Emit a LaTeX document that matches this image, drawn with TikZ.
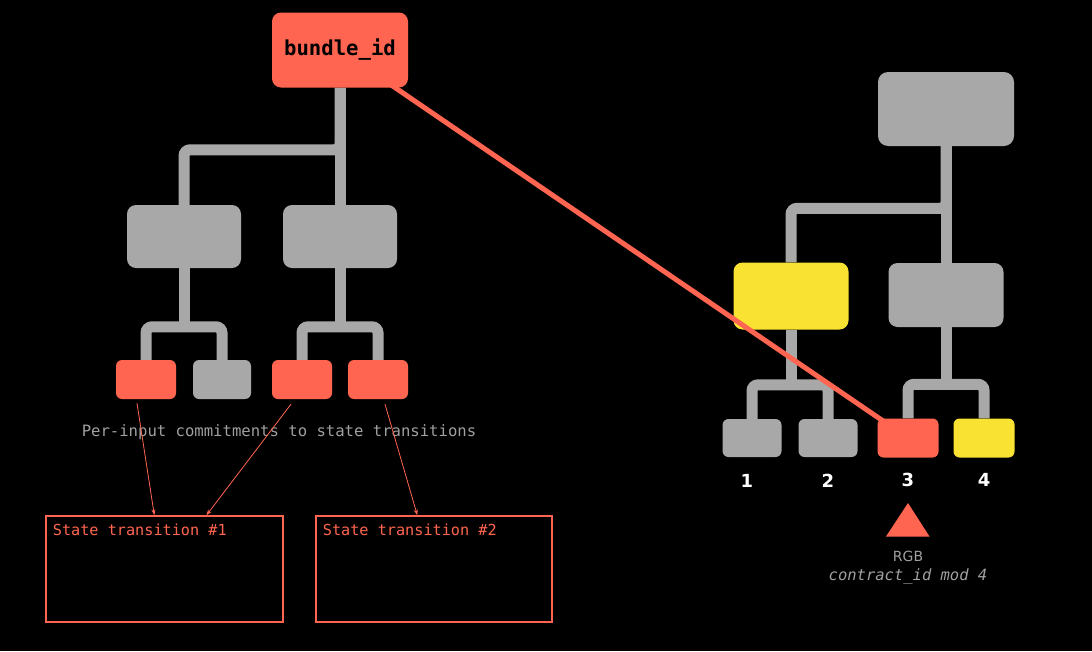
\documentclass[tikz,border=0pt]{standalone}
\usepackage{fontspec}
\setmainfont{DejaVu Sans}
\setmonofont{DejaVu Sans Mono}
\usetikzlibrary{arrows.meta,calc}
\definecolor{coral}{HTML}{FF6550}
\definecolor{gr}{HTML}{A8A8A8}
\definecolor{yel}{HTML}{F9E231}
\definecolor{lbl}{HTML}{A0A0A0}
\pgfdeclarelayer{bg}\pgfdeclarelayer{mid}\pgfdeclarelayer{ln}
\pgfsetlayers{bg,mid,ln,main}
\begin{document}
\begin{tikzpicture}[x=1pt,y=-1pt,
  box/.style={rounded corners=9pt, inner sep=0pt, minimum width=115pt, minimum height=64pt},
  leaf/.style={rounded corners=6pt, inner sep=0pt, minimum width=60pt, minimum height=39pt},
  conn/.style={draw=gr, line width=11pt, rounded corners=6pt},
  arr/.style={draw=coral, line width=0.8pt, -{Stealth[length=6pt,width=4pt]}},
  stbox/.style={draw=coral, line width=1.3pt, inner sep=0pt, minimum height=106pt},
  mono/.style={font=\ttfamily\fontsize{15.2}{18}\selectfont},
  num/.style={font=\bfseries\fontsize{18}{21}\selectfont, text=white, anchor=base}
]
\useasboundingbox (0,0) rectangle (1092,651);
\begin{pgfonlayer}{bg}
\fill[black] (0,0) rectangle (1092,651);
\end{pgfonlayer}

% left tree
\node[box, fill=coral, minimum width=136pt, minimum height=75pt, font=\ttfamily\bfseries\fontsize{20.6}{24}\selectfont] (bid) at (340,50) {bundle\_id};
\begin{pgfonlayer}{mid}
\node[box, fill=gr, minimum width=114pt, minimum height=63pt] (a1) at (184,236.5) {};
\node[box, fill=gr, minimum width=114pt, minimum height=63pt] (a2) at (340,236.5) {};
\node[leaf, fill=coral] (l1) at (146,379.5) {};
\node[leaf, fill=gr, minimum width=58pt] (l2) at (222,379.5) {};
\node[leaf, fill=coral] (l3) at (302,379.5) {};
\node[leaf, fill=coral] (l4) at (378,379.5) {};
% right tree
\node[box, fill=gr, rounded corners=10pt, minimum width=136pt, minimum height=74pt] (rt) at (946,109) {};
\node[box, fill=yel, minimum width=115pt, minimum height=67pt] (y1) at (791,296) {};
\node[box, fill=gr, minimum width=115pt, minimum height=64pt] (g2) at (946,295) {};
\node[leaf, fill=gr, minimum width=59pt, minimum height=38pt] (r1) at (752,438) {};
\node[leaf, fill=gr, minimum width=59pt, minimum height=38pt] (r2) at (828,438) {};
\node[leaf, fill=yel, minimum width=61pt] (r4) at (984,438) {};
\end{pgfonlayer}
\node[leaf, fill=coral, minimum width=61pt] (r3) at (908,438) {};

\begin{pgfonlayer}{bg}
\draw[conn] (a1.north) -- ++(0,-55) -| (bid.south);
\draw[conn] (bid.south) -- (a2.north);
\draw[conn] (a1.south) -- ++(0,59);
\draw[conn] (l1.north) -- ++(0,-33) -| (l2.north);
\draw[conn] (a2.south) -- ++(0,59);
\draw[conn] (l3.north) -- ++(0,-33) -| (l4.north);
\draw[conn] (y1.north) -- ++(0,-54) -| (rt.south);
\draw[conn] (rt.south) -- (g2.north);
\draw[conn] (y1.south) -- ++(0,55);
\draw[conn] (r1.north) -- ++(0,-34) -| (r2.north);
\draw[conn] (g2.south) -- ++(0,58);
\draw[conn] (r3.north) -- ++(0,-34) -| (r4.north);
\end{pgfonlayer}

\begin{pgfonlayer}{ln}
\draw[coral, line width=5pt] (bid.center) -- (r3.center);
\end{pgfonlayer}

% state transition boxes
\node[stbox, minimum width=237pt] (st1) at (164.5,569) {};
\node[stbox, minimum width=236pt] (st2) at (434,569) {};
\node[mono, text=coral, anchor=base west] (st1t) at ($(st1.north west)+(4,20)$) {State transition \#1};
\node[mono, text=coral, anchor=base west] (st2t) at ($(st2.north west)+(4,20)$) {State transition \#2};

\node[font=\ttfamily\fontsize{15.6}{18}\selectfont, text=lbl, anchor=base] (pic) at (279,436) {Per-input commitments to state transitions};

\draw[arr] ($(l1.south)+(-9,4)$) -- ($(st1.north west)+(109,0)$);
\draw[arr] ($(l3.south)+(-11,5)$) -- ($(st1.north west)+(161,0)$);
\draw[arr] ($(l4.south)+(7,5)$) -- ($(st2.north west)+(102,0)$);

% numbers
\node[num] (n1) at ($(r1.south)+(-5,30)$) {1};
\node[num] (n2) at ($(r2.south)+(0,30)$) {2};
\node[num] (n3) at ($(r3.south)+(0,29)$) {3};
\node[num] (n4) at ($(r4.south)+(0,29)$) {4};

\fill[coral] (908,503) -- (929.5,536.5) -- (886,536.5) -- cycle;
\node[font=\fontsize{14}{17}\selectfont, text=lbl, anchor=base] (rgb) at (908,561) {RGB};
\node[font=\ttfamily\itshape\fontsize{15.5}{18}\selectfont, text=lbl, anchor=base] (cid) at (908,580.5) {contract\_id mod 4};
\end{tikzpicture}
\end{document}
